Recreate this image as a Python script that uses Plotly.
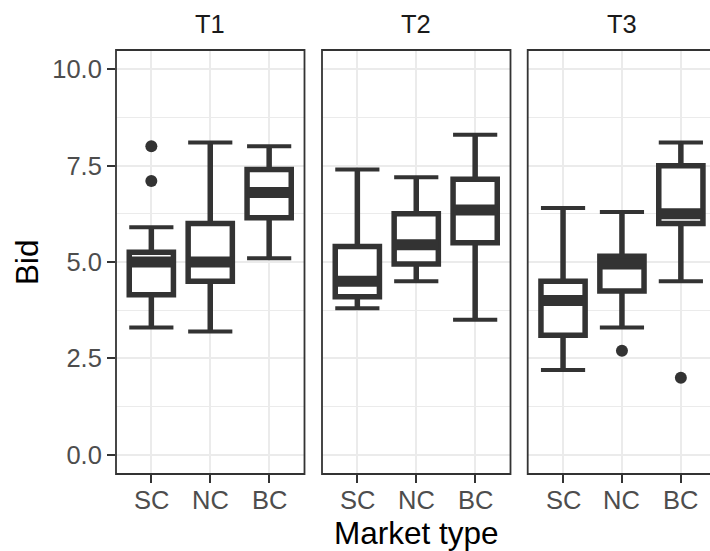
import plotly.graph_objects as go

# ---- data ----
panels = ["T1", "T2", "T3"]
categories = ["SC", "NC", "BC"]

box_panel = ["T1", "T1", "T1", "T2", "T2", "T2", "T3", "T3", "T3"]
box_market = ["SC", "NC", "BC", "SC", "NC", "BC", "SC", "NC", "BC"]
whisker_low = [3.3, 3.2, 5.1, 3.8, 4.5, 3.5, 2.2, 3.3, 4.5]
q1_vals = [4.15, 4.5, 6.15, 4.1, 4.95, 5.5, 3.1, 4.25, 6.0]
median_vals = [5.0, 5.0, 6.8, 4.5, 5.45, 6.35, 4.0, 4.95, 6.25]
q3_vals = [5.25, 6.0, 7.4, 5.4, 6.25, 7.15, 4.5, 5.15, 7.5]
whisker_high = [5.9, 8.1, 8.0, 7.4, 7.2, 8.3, 6.4, 6.3, 8.1]

outlier_panel = ["T1", "T1", "T3", "T3"]
outlier_market = ["SC", "SC", "NC", "BC"]
outlier_bid = [8.0, 7.1, 2.7, 2.0]

y_ticks = [0.0, 2.5, 5.0, 7.5, 10.0]
y_tick_text = ["0.0", "2.5", "5.0", "7.5", "10.0"]
y_minor = [1.25, 3.75, 6.25, 8.75]

# ---- style ----
W, H = 710, 551
FONT = "Liberation Sans, Arial, Helvetica, sans-serif"
DARK = "#333333"
GRID = "#EBEBEB"
TICK_COL = "#4D4D4D"
TICK_SIZE = 25.5
TITLE_SIZE = 31.5
BOX_W = 0.75
HALF = BOX_W / 2

def px_x(v):
    return v / W

def px_y(v):
    return 1 - v / H

x_domains = [
    [px_x(116), px_x(304.5)],
    [px_x(322), px_x(510.5)],
    [px_x(527.7), 1.0],
]
unit_px = 188.5 / 3.2
x_ranges = [
    [0.4, 3.6],
    [0.4, 3.6],
    [0.4, 0.4 + (W - 527.7) / unit_px],
]
y_domain = [px_y(474), px_y(50)]
y_range = [-0.5, 10.5]

fig = go.Figure()

for pi, p in enumerate(panels):
    xa = "x" if pi == 0 else f"x{pi + 1}"
    ya = "y" if pi == 0 else f"y{pi + 1}"
    idx = [i for i, bp in enumerate(box_panel) if bp == p]
    pos = [categories.index(box_market[i]) + 1 for i in idx]

    fig.add_trace(go.Box(
        x=pos,
        q1=[q1_vals[i] for i in idx],
        median=[median_vals[i] for i in idx],
        q3=[q3_vals[i] for i in idx],
        lowerfence=[whisker_low[i] for i in idx],
        upperfence=[whisker_high[i] for i in idx],
        orientation="v",
        width=BOX_W,
        whiskerwidth=0,
        fillcolor="white",
        line=dict(color=DARK, width=5.5),
        boxpoints=False,
        hoverinfo="skip",
        showlegend=False,
        xaxis=xa, yaxis=ya,
    ))

    # thick median bar
    mx, my = [], []
    for k, i in enumerate(idx):
        mx += [pos[k] - HALF, pos[k] + HALF, None]
        my += [median_vals[i], median_vals[i], None]
    fig.add_trace(go.Scatter(
        x=mx, y=my, mode="lines",
        line=dict(color=DARK, width=11),
        hoverinfo="skip", showlegend=False,
        xaxis=xa, yaxis=ya,
    ))

    # whisker caps
    cx, cy = [], []
    for k, i in enumerate(idx):
        for v in (whisker_low[i], whisker_high[i]):
            cx += [pos[k] - HALF, pos[k] + HALF, None]
            cy += [v, v, None]
    fig.add_trace(go.Scatter(
        x=cx, y=cy, mode="lines",
        line=dict(color=DARK, width=4),
        hoverinfo="skip", showlegend=False,
        xaxis=xa, yaxis=ya,
    ))

    # outliers
    oi = [j for j, op in enumerate(outlier_panel) if op == p]
    if oi:
        fig.add_trace(go.Scatter(
            x=[categories.index(outlier_market[j]) + 1 for j in oi],
            y=[outlier_bid[j] for j in oi],
            mode="markers",
            marker=dict(color=DARK, size=12, line=dict(width=0)),
            hoverinfo="skip", showlegend=False,
            xaxis=xa, yaxis=ya,
        ))

layout = dict(
    width=W, height=H,
    margin=dict(l=0, r=0, t=0, b=0),
    paper_bgcolor="white",
    plot_bgcolor="white",
    font=dict(family=FONT, color=TICK_COL, size=TICK_SIZE),
    showlegend=False,
)

shapes = []
annotations = []
for pi, p in enumerate(panels):
    xk = "xaxis" if pi == 0 else f"xaxis{pi + 1}"
    yk = "yaxis" if pi == 0 else f"yaxis{pi + 1}"
    xa_id = "x" if pi == 0 else f"x{pi + 1}"
    ya_id = "y" if pi == 0 else f"y{pi + 1}"
    layout[xk] = dict(
        domain=x_domains[pi], range=x_ranges[pi], anchor=ya_id,
        tickmode="array", tickvals=[1, 2, 3], ticktext=categories,
        showticklabels=False,
        showgrid=True, gridcolor=GRID, gridwidth=2.2,
        zeroline=False, showline=False,
        ticks="outside", ticklen=8, tickwidth=2, tickcolor=DARK,
        automargin=False, fixedrange=True,
    )
    layout[yk] = dict(
        domain=y_domain, range=y_range, anchor=xa_id,
        tickmode="array", tickvals=y_ticks, ticktext=y_tick_text,
        showgrid=True, gridcolor=GRID, gridwidth=2.2,
        minor=dict(tickmode="array", tickvals=y_minor, showgrid=True,
                   gridcolor=GRID, gridwidth=1.1, ticks=""),
        zeroline=False, showline=False,
        ticks="outside" if pi == 0 else "",
        ticklen=8, tickwidth=2, tickcolor=DARK,
        showticklabels=(pi == 0),
        tickfont=dict(family=FONT, size=TICK_SIZE, color=TICK_COL),
        automargin=False, fixedrange=True,
    )
    # panel border (T3 runs past the right edge of the picture)
    shapes.append(dict(
        type="rect", xref=f"{xa_id} domain", yref=f"{ya_id} domain",
        x0=0, x1=1 if pi < 2 else 1.2, y0=0, y1=1,
        line=dict(color=DARK, width=1.8), fillcolor="rgba(0,0,0,0)",
        layer="above",
    ))
    # x tick labels
    for ci, c in enumerate(categories):
        annotations.append(dict(
            text=c, xref=xa_id, yref="paper", x=ci + 1, y=px_y(500),
            xanchor="center", yanchor="middle", showarrow=False,
            font=dict(family=FONT, size=TICK_SIZE, color=TICK_COL),
        ))
    # strip labels
    d = x_domains[pi]
    cxp = (d[0] + d[1]) / 2 if pi < 2 else px_x(527.7 + 188.5 / 2)
    annotations.append(dict(
        text=p, xref="paper", yref="paper", x=cxp, y=px_y(24.5),
        xanchor="center", yanchor="middle", showarrow=False,
        font=dict(family=FONT, size=TICK_SIZE, color="#1A1A1A"),
    ))

annotations.append(dict(
    text="Bid", xref="paper", yref="paper", x=px_x(27), y=px_y(262),
    xanchor="center", yanchor="middle", textangle=-90, showarrow=False,
    font=dict(family=FONT, size=TITLE_SIZE, color="black"),
))
annotations.append(dict(
    text="Market type", xref="paper", yref="paper", x=px_x(416), y=px_y(533),
    xanchor="center", yanchor="middle", showarrow=False,
    font=dict(family=FONT, size=TITLE_SIZE, color="black"),
))
layout["annotations"] = annotations
layout["shapes"] = shapes

fig.update_layout(**layout)
fig.write_html("out.html")
